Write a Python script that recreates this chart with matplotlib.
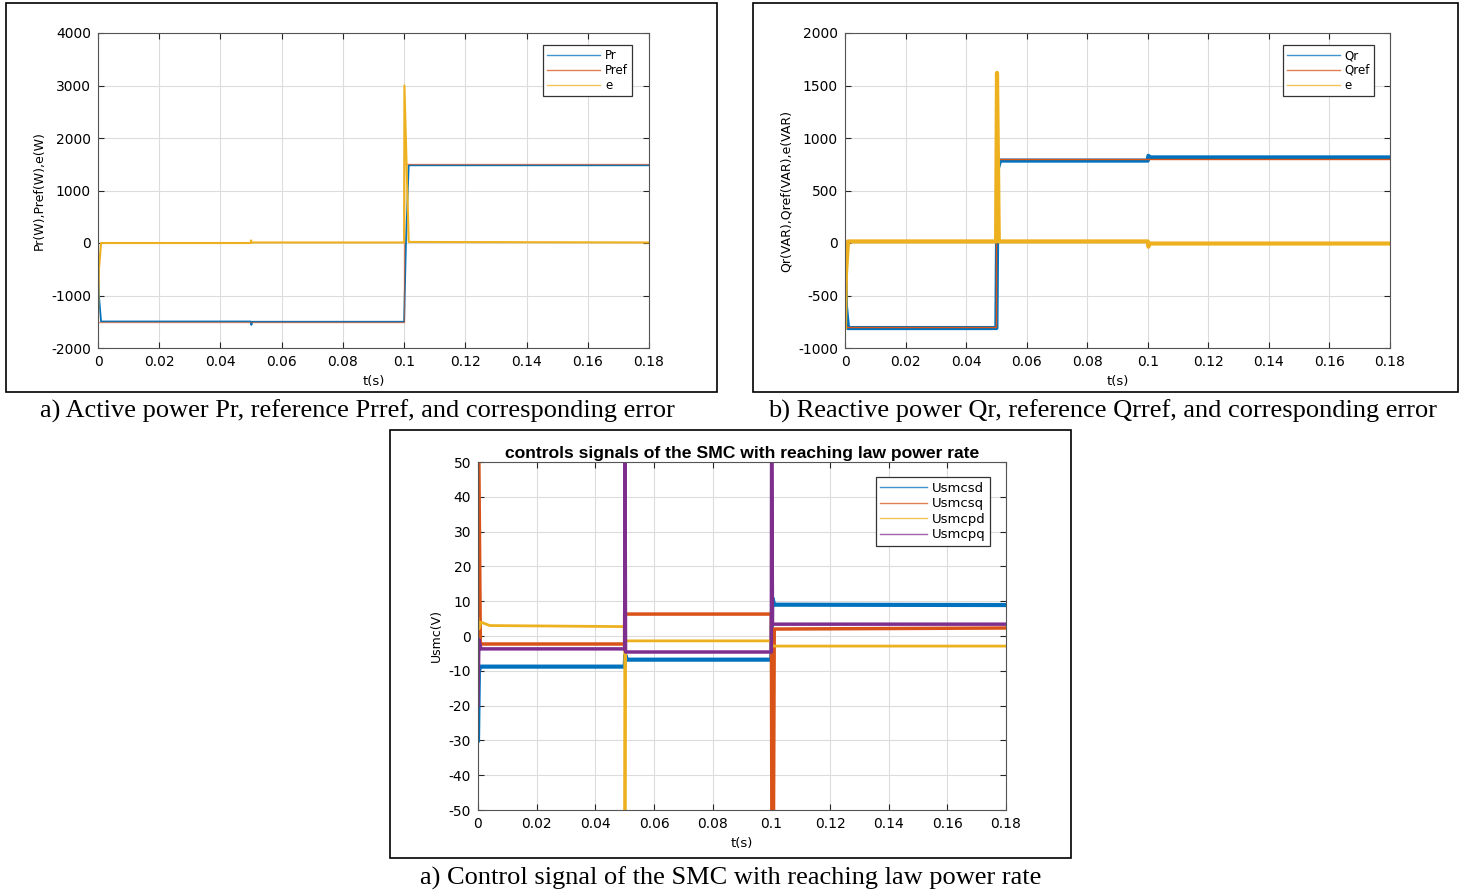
import matplotlib.pyplot as plt
from matplotlib.patches import Rectangle

W, H = 1466, 894

# active power (W)
pr_t = [0, 0.0003, 0.001, 0.0499, 0.0501, 0.0504, 0.1, 0.1006, 0.1015, 0.18]
pr_v = [0, -1000, -1495, -1495, -1560, -1500, -1500, 0, 1480, 1480]
pref_t = [0, 0.1, 0.1, 0.18]
pref_v = [-1510, -1510, 1500, 1500]
pe_t = [0, 0.0003, 0.001, 0.0499, 0.05, 0.0502, 0.1, 0.1001, 0.1015, 0.18]
pe_v = [-1500, -500, 0, 0, 50, 10, 10, 3000, 20, 10]

# reactive power (VAR)
qr_t = [0, 0.0003, 0.001, 0.05, 0.0504, 0.0512, 0.1, 0.1002, 0.1006, 0.18]
qr_v = [0, -600, -810, -810, 700, 785, 785, 830, 815, 815]
qref_t = [0, 0.05, 0.05, 0.18]
qref_v = [-800, -800, 800, 800]
qe_t = [0, 0.0003, 0.001, 0.0499, 0.0502, 0.0508, 0.1, 0.1002, 0.1006, 0.18]
qe_v = [-800, -300, 15, 15, 1620, 15, 15, -35, -5, -5]

# SMC control signals (V)
usd_t = [0, 0.0003, 0.0008, 0.05, 0.0502, 0.0508, 0.1, 0.1003, 0.101, 0.18]
usd_v = [-30, -10, -8.8, -8.8, -5.5, -6.8, -6.8, 11, 9, 8.9]
usq_t = [0, 0.0002, 0.0008, 0.05, 0.05, 0.1, 0.1002, 0.1007, 0.101, 0.18]
usq_v = [60, 60, -2.3, -2.3, 6.3, 6.3, -60, -60, 2.0, 2.3]
upd_t = [0, 0.0003, 0.001, 0.004, 0.05, 0.0501, 0.0503, 0.1, 0.1003, 0.18]
upd_v = [5, 2, 4, 3, 2.7, -60, -1.4, -1.4, -2.9, -2.9]
upq_t = [0, 0.0003, 0.001, 0.05, 0.0501, 0.0503, 0.1, 0.1001, 0.1004, 0.18]
upq_v = [-20, -1, -3.7, -3.7, 60, -4.6, -4.6, 60, 3.4, 3.4]

xticks = [0, 0.02, 0.04, 0.06, 0.08, 0.1, 0.12, 0.14, 0.16, 0.18]
xticklabels = ['0', '0.02', '0.04', '0.06', '0.08', '0.1', '0.12', '0.14', '0.16', '0.18']

blue, red, yellow, purple = '#0072BD', '#D95319', '#EDB120', '#7E2F8E'

plt.rcParams['font.family'] = ['DejaVu Sans']
plt.rcParams['axes.unicode_minus'] = False

fig = plt.figure(figsize=(W / 100, H / 100), dpi=100)


def box(l, t, r, b):
    return [l / W, 1 - b / H, (r - l) / W, (b - t) / H]


def frame(l, t, r, b):
    fig.add_artist(Rectangle((l / W, 1 - b / H), (r - l) / W, (b - t) / H,
                             transform=fig.transFigure, fill=False,
                             ec='black', lw=1.2))


def caption(x, y, s):
    fig.text(x / W, 1 - y / H, s, ha='center', va='center',
             fontsize=19, family='Liberation Serif')


def style(ax, ylim, yticks, ylabel):
    ax.set_xlim(0, 0.18)
    ax.set_ylim(*ylim)
    ax.set_xticks(xticks)
    ax.set_xticklabels(xticklabels)
    ax.set_yticks(yticks)
    ax.grid(True, color='#dcdcdc', lw=0.8)
    ax.set_axisbelow(True)
    ax.tick_params(direction='in', top=True, right=True, length=4,
                   labelsize=10, color='#262626', pad=5)
    for s in ax.spines.values():
        s.set_color('#555555')
        s.set_linewidth(0.8)
    ax.set_xlabel('t(s)', fontsize=9.5, labelpad=4)
    ax.set_ylabel(ylabel, fontsize=9, labelpad=4)


def legend(ax, anchor, size, hl, spacing):
    leg = ax.legend(loc='upper right', bbox_to_anchor=anchor, borderaxespad=0,
                    fontsize=size, fancybox=False, edgecolor='#333333',
                    framealpha=1, handlelength=hl, labelspacing=spacing,
                    borderpad=0.35, handletextpad=0.4)
    leg.get_frame().set_linewidth(0.9)
    for ln in leg.get_lines():
        ln.set_linewidth(1.0)
        ln.set_alpha(0.75)


# a) active power
ax1 = fig.add_axes(box(98, 33, 649, 348))
ax1.plot(pr_t, pr_v, color=blue, lw=1.3, label='Pr')
ax1.plot(pref_t, pref_v, color=red, lw=1.0, alpha=0.6, label='Pref')
ax1.plot(pe_t, pe_v, color=yellow, lw=1.5, label='e')
style(ax1, (-2000, 4000), range(-2000, 4001, 1000), 'Pr(W),Pref(W),e(W)')
legend(ax1, (0.969, 0.962), 8.5, 4.5, 0.15)
frame(6, 3, 717, 392)
caption(357, 411, 'a) Active power Pr, reference Prref, and corresponding error')

# b) reactive power
ax2 = fig.add_axes(box(845, 33, 1390, 348))
ax2.plot(qr_t, qr_v, color=blue, lw=3.0, label='Qr')
ax2.plot(qref_t, qref_v, color=red, lw=1.0, label='Qref')
ax2.plot(qe_t, qe_v, color=yellow, lw=3.0, label='e')
style(ax2, (-1000, 2000), range(-1000, 2001, 500), 'Qr(VAR),Qref(VAR),e(VAR)')
legend(ax2, (0.971, 0.962), 8.5, 4.5, 0.15)
frame(753, 3, 1458, 392)
caption(1103, 411, 'b) Reactive power Qr, reference Qrref, and corresponding error')

# c) SMC control signals
ax3 = fig.add_axes(box(478, 462, 1006, 810))
ax3.plot(usd_t, usd_v, color=blue, lw=3.0, label='Usmcsd')
ax3.plot(usq_t, usq_v, color=red, lw=2.5, label='Usmcsq')
ax3.plot(upd_t, upd_v, color=yellow, lw=2.0, label='Usmcpd')
ax3.plot(upq_t, upq_v, color=purple, lw=2.5, label='Usmcpq')
style(ax3, (-50, 50), range(-50, 51, 10), 'Usmc(V)')
ax3.set_title('controls signals of the SMC with reaching law power rate',
              fontsize=12.6, fontweight='bold', family='Liberation Sans', pad=3)
legend(ax3, (0.970, 0.957), 9.5, 3.5, 0.2)
frame(390, 430, 1071, 858)
caption(731, 878, 'a) Control signal of the SMC with reaching law power rate')

fig.savefig('out.png', dpi=100)
